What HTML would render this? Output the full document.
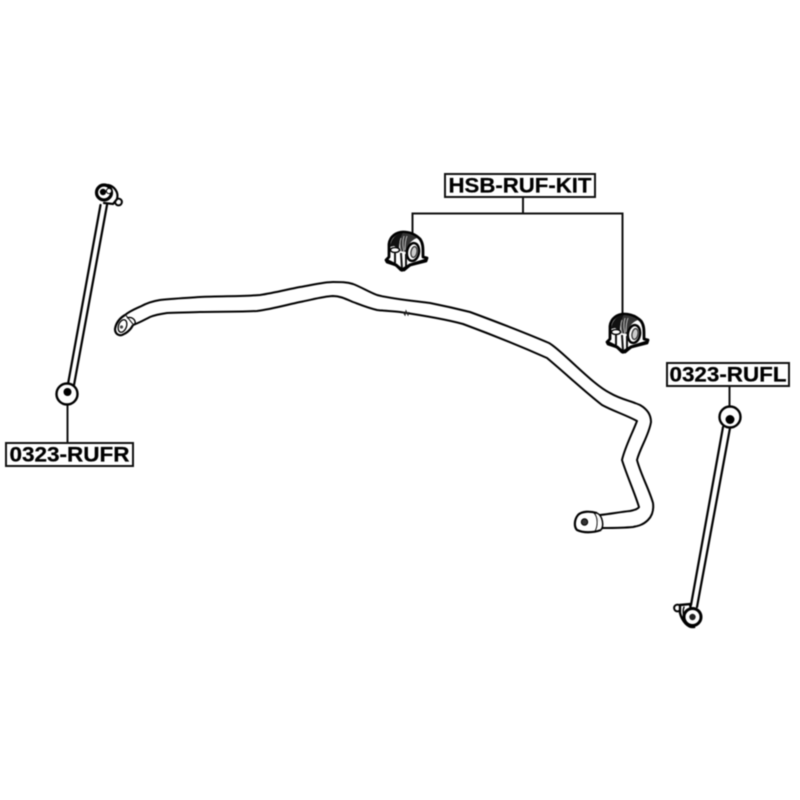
<!DOCTYPE html>
<html>
<head>
<meta charset="utf-8">
<style>
html,body{margin:0;padding:0;background:#fff;}
svg{display:block;filter:blur(0.45px);}
text{font-family:"Liberation Sans",sans-serif;font-weight:bold;font-size:21.5px;fill:#000;stroke:#000;stroke-width:0.25px;}
</style>
</head>
<body>
<svg width="800" height="800" viewBox="0 0 800 800" xmlns="http://www.w3.org/2000/svg">
<defs>
<g id="bush">
  <path d="M-19,10 L-16,7 L-16,-6 C-15,-14 -8,-18 -2,-18 C5,-18 11,-15 15,-11 C18,-7 18,-2 18,3 L18,7 L22,8 L21,11 L5,15 L-1,20 L-4,20 L-9,15 L-18,12 Z" fill="#fff" stroke="#000" stroke-width="2.800" stroke-linejoin="round"/>
  <path d="M-15,-3 C-14,-12 -8,-17 -2,-17 C-5,-11 -6,-6 -6,-1 L-11,-4 Z" fill="#111"/>
  <path d="M-2,-17 C3,-17 8,-15 12,-12 C6,-10 2,-4 1,2 L-5,1 C-6,-6 -5,-12 -2,-17 Z" fill="#333"/>
  <path d="M-4,-12 C-6,-7 -5,-2 -4,1 M-1,-14 C-3,-8 -2,-3 -1,2 M2,-14 C0,-9 0,-4 0,0" fill="none" stroke="#bbb" stroke-width="1"/>
  <ellipse cx="8" cy="2" rx="6" ry="9" transform="rotate(10 8 2)" fill="#fff" stroke="#000" stroke-width="2.400"/>
  <ellipse cx="9" cy="2" rx="3" ry="5.500" transform="rotate(10 9 2)" fill="#ccc" stroke="#333" stroke-width="1.300"/>
  <ellipse cx="-10" cy="0" rx="4.500" ry="2.400" fill="#fff" stroke="#000" stroke-width="1.400"/>
  <path d="M-10,3 L-10,13 M-4,3 L-3,19 M1,4 L1,17" fill="none" stroke="#111" stroke-width="2"/>
  <path d="M-19,10 L-9,15 L-3,20 L5,15 L21,10" fill="none" stroke="#000" stroke-width="3"/>
</g>
</defs>

<!-- leader lines -->
<g fill="none" stroke="#111" stroke-width="2">
  <path d="M523,198 V213.500"/>
  <path d="M412.500,236 V213.500 H622.500 V316"/>
  <path d="M67.500,400 V443"/>
  <path d="M729.500,386 V410"/>
</g>

<!-- left link -->
<g fill="none" stroke="#000" stroke-linecap="round">
  <path d="M100.500,205 L68,384 M107,205 L74,385" stroke-width="2.200"/>
  <circle cx="67" cy="394" r="10.500" fill="#fff" stroke-width="2.400"/>
  <circle cx="67.500" cy="392" r="4" fill="#000" stroke="none"/>
  <circle cx="118.500" cy="202" r="3.400" fill="#fff" stroke-width="2"/>
  <path d="M108,185 C114,186 119,192 117,199 L113,204 L104,203" fill="#fff" stroke-width="2.200"/>
  <circle cx="104" cy="192.500" r="7.500" fill="#fff" stroke-width="3.200"/>
  <circle cx="103" cy="192" r="3.200" fill="#000" stroke="none"/>
  <circle cx="109" cy="191" r="2.600" fill="#fff" stroke="#000" stroke-width="1"/>
</g>

<!-- right link -->
<g fill="none" stroke="#000" stroke-linecap="round">
  <path d="M723,427 L691,605 M730,428 L697,607" stroke-width="2.200"/>
  <circle cx="730" cy="417" r="10.500" fill="#fff" stroke-width="2.400"/>
  <circle cx="730" cy="419.500" r="4.500" fill="#000" stroke="none"/>
  <circle cx="677.500" cy="608" r="3.400" fill="#fff" stroke-width="2"/>
  <path d="M680,605 L690,604 L694,627 C688,628 682,621 680,613 Z" fill="#fff" stroke-width="2.400"/>
  <path d="M684,607 C682,612 684,620 688,625" stroke-width="1.400"/>
  <circle cx="692.500" cy="617" r="8.500" fill="#fff" stroke-width="3"/>
  <circle cx="692.500" cy="617" r="3.200" fill="#222" stroke="none"/>
</g>

<!-- stabilizer bar -->
<path d="M125,315 C130,311 135,309 140,306.700 C147,303 153,301 160,300 C172,298.500 186,298 200,297 C222,296 242,296.500 260,295 C274,293 287,289.500 300,287 C312,285 324,282 333,282 C341,282 347,282 353,284 C361,287 369,292 377,295 C392,299 415,301 430,303 C445,306 458,309 470,312 C497,322 528,334 549,343 C556,347 565,356 576,366 C588,377 600,388 610,393 C620,399 631,401 640,405 C647,409 651,415 651,422 C649,435 640,448 637,460 C641,475 649,489 653,503 C654,511 652,516 648,520 C643,525 638,526 633,527 C623,528 613,528 603,528 L596,530 L600,515 C610,514 620,512 630,511 C635,510 638,509 639,507 C634,491 627,476 622,460 C625,447 632,434 637,421 C626,415 613,411 602,405 C584,391 565,373 547,358 C520,346 490,334 463,324 C445,319 420,315 400,312 C392,311 385,311 377,310 C368,308 361,305 353,302 C346,299 340,296 333,296 C322,296.500 311,300 300,302 C286,305 272,309 257,311 C238,312 218,311.500 200,312 C189,312.500 178,312.500 167,313 C160,314 155,315 150,317 C144,320 139,323 133,325 Z" fill="#fff" stroke="#000" stroke-width="2" stroke-linejoin="round"/>
<path d="M403,312 L405,315 L406,311 L408,315 L409,312" fill="none" stroke="#222" stroke-width="1.100"/>

<!-- bar left end -->
<g fill="none" stroke="#000">
  <path d="M125,315 C120,318 116,323 115,329 C115,334 119,336 122,335 C127,333 131,329 133,325" fill="#fff" stroke-width="2.200"/>
  <ellipse cx="122.500" cy="326" rx="4" ry="6.500" transform="rotate(20 122.500 326)" stroke-width="1.300"/>
  <path d="M127,318 C132,316 136,320 135,324" stroke-width="1.400"/>
  <circle cx="121.500" cy="327" r="1.600" fill="#444" stroke="none"/>
</g>

<!-- bar right end -->
<g fill="none" stroke="#000">
  <path d="M597,513 C590,511 582,511 578,515 C574,520 574,527 577,530 C583,533 593,533 601,530" fill="#fff" stroke-width="2.200"/>
  <path d="M597,513 C603,516 604,526 601,530" fill="#fff" stroke-width="1.500"/>
  <path d="M594,513 C598,517 598,526 595,531" stroke-width="0.900"/>
  <circle cx="584.500" cy="522" r="3.200" fill="#333" stroke="#000" stroke-width="1"/>
</g>

<!-- bushings -->
<use href="#bush" x="405" y="250"/>
<use href="#bush" x="626" y="332"/>

<!-- labels -->
<g fill="#fff" stroke="#111" stroke-width="2">
  <rect x="445" y="174" width="150" height="23"/>
  <rect x="6" y="443" width="127" height="23"/>
  <rect x="667" y="363" width="122" height="23"/>
</g>
<text x="520" y="192.500" text-anchor="middle" textLength="143" lengthAdjust="spacingAndGlyphs">HSB-RUF-KIT</text>
<text x="69.500" y="461.500" text-anchor="middle" textLength="120" lengthAdjust="spacingAndGlyphs">0323-RUFR</text>
<text x="728" y="381.500" text-anchor="middle" textLength="117" lengthAdjust="spacingAndGlyphs">0323-RUFL</text>
</svg>
</body>
</html>
